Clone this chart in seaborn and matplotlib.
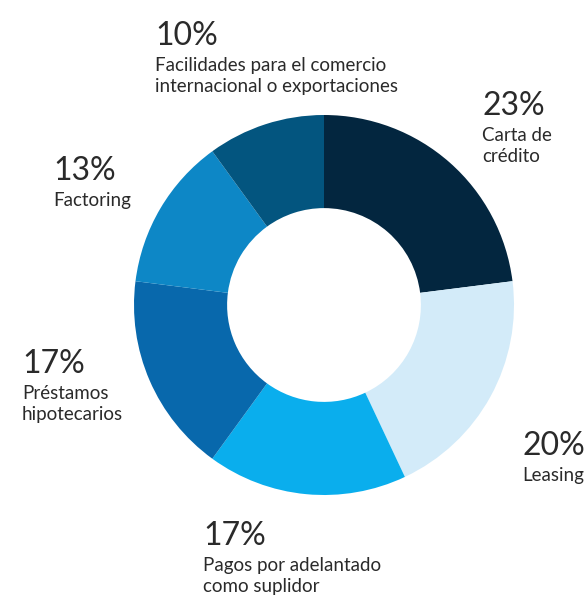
import matplotlib
matplotlib.use("Agg")
import matplotlib.pyplot as plt
import seaborn as sns

# Shares of financing instruments, clockwise from 12 o'clock
categories = [
    ["Carta de", "crédito"],
    ["Leasing"],
    ["Pagos por adelantado", "como suplidor"],
    ["Préstamos", "hipotecarios"],
    ["Factoring"],
    ["Facilidades para el comercio", "internacional o exportaciones"],
]
shares = [23, 20, 17, 17, 13, 10]
colors = ["#03263f", "#d3ebf9", "#0aaeed", "#0868ac", "#0d87c6", "#03557f"]

# Label anchor (left x, baseline of the percentage) in pixels from the top-left
label_pos = [(482, 115), (522, 455), (203, 545), (22, 373), (53, 180), (155, 45)]

sns.set_theme(style="white")
plt.rcParams["font.family"] = ["Lato", "DejaVu Sans"]

W, H = 588, 595
fig = plt.figure(figsize=(W / 100, H / 100), dpi=100)
fig.patch.set_facecolor("white")

cx, cy, r = 324, 305, 190
ax = fig.add_axes([(cx - r) / W, 1 - (cy + r) / H, 2 * r / W, 2 * r / H])
ax.pie(
    shares,
    colors=colors,
    startangle=90,
    counterclock=False,
    radius=1.0,
    wedgeprops=dict(width=0.49, linewidth=0),
)
ax.set_xlim(-1, 1)
ax.set_ylim(-1, 1)
ax.set_aspect("equal")
ax.axis("off")

text_color = "#2a2a2a"
for lines, value, (x, y) in zip(categories, shares, label_pos):
    fig.text(x / W, 1 - y / H, f"{value}%", fontsize=23, fontweight="normal",
             color=text_color, ha="left", va="baseline")
    for i, line in enumerate(lines):
        fig.text(x / W, 1 - (y + 26 + 21 * i) / H, line, fontsize=13.5,
                 color=text_color, ha="left", va="baseline")

fig.savefig("out.png", dpi=100, facecolor="white")
